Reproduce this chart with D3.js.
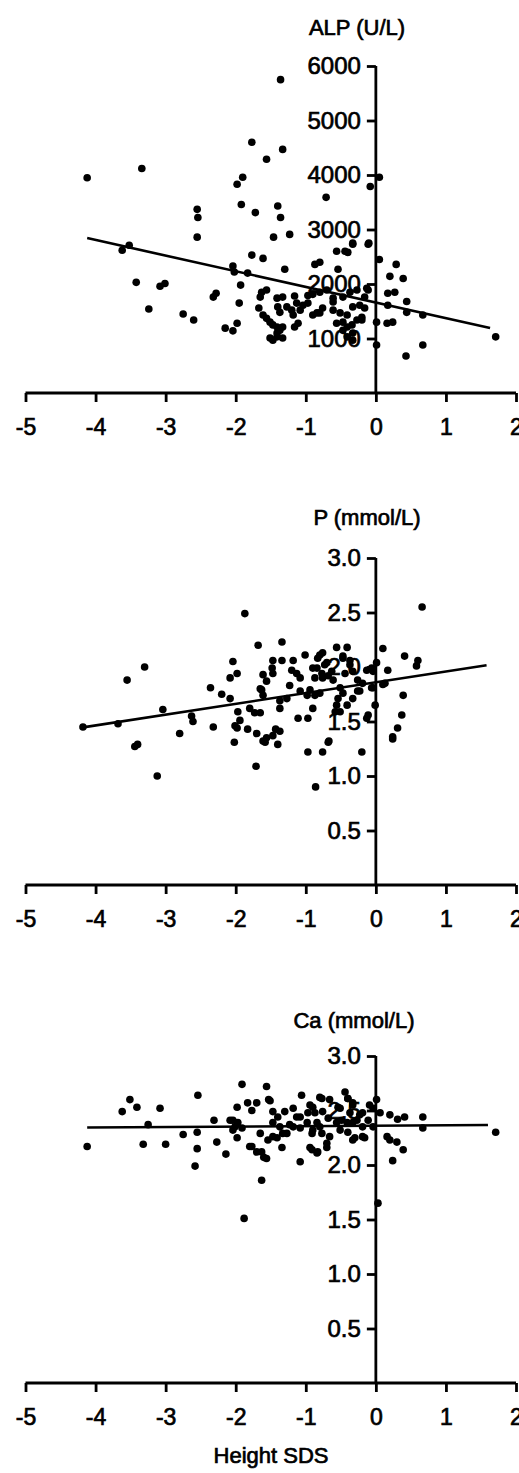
<!DOCTYPE html>
<html lang="en">
<head>
<meta charset="utf-8">
<title>Height SDS vs ALP, P, Ca</title>
<script src="https://cdn.jsdelivr.net/npm/d3@7"></script>
<style>
  body { margin: 0; background: #fff; }
  svg text { font-family: "Liberation Sans", Arial, Helvetica, sans-serif; fill: #000; stroke: #000; stroke-width: 0.7px; }
  .axis path, .axis line { stroke: #000; stroke-width: 2.8px; }
  .fit { stroke: #000; stroke-width: 2.6px; }
  .dot { fill: #000; }
</style>
</head>
<body>
<div id="chart"></div>
<script>
// x values: height SDS, shared by all three panels
var xTicks = [-5, -4, -3, -2, -1, 0, 1, 2];

var alpTicks = [1000, 2000, 3000, 4000, 5000, 6000];
var mmolTicks = [0.5, 1.0, 1.5, 2.0, 2.5, 3.0];

// [height SDS, ALP U/L]
var alpPoints = [
  [-4.12,3950],[-3.34,4120],[-1.36,5750],[-1.77,4600],[-1.33,4470],[-1.56,4290],[-1.90,3960],[-1.98,3830],
  [0.05,3960],[-0.08,3790],[-0.71,3590],[-1.92,3460],[-1.72,3310],[-1.40,3430],[-1.36,3220],[-2.55,3370],
  [-2.54,3220],[-2.55,2860],[-1.46,2860],[-1.23,2910],[-3.52,2710],[-3.62,2620],[-1.77,2530],[-1.61,2470],
  [-2.04,2330],[-2.02,2220],[-1.83,2200],[-1.30,2270],[-0.11,2730],[-0.33,2730],[-0.40,2580],[-0.56,2600],
  [-0.87,2360],[-0.80,2400],[-0.54,2270],[0.05,2450],[0.29,2360],[0.20,2140],[0.39,2100],[-3.42,2030],
  [-3.08,1960],[-3.01,2010],[-1.93,1980],[-0.13,1920],[-2.28,1830],[-2.32,1760],[-1.95,1650],[-3.24,1540],
  [-2.75,1450],[-2.60,1340],[-2.15,1190],[-2.04,1140],[-1.98,1280],[0.44,1680],[0.67,1430],[0.67,880],
  [0.43,680],[1.71,1030],[0.01,880],[0.01,1300],[0.16,1280],[0.24,1300],[0.17,1830],[0.27,1850],
  [-1.47,970],[-1.33,1010],[-0.44,2600],[-0.33,2750],[-0.10,2750],[-1.63,1850],[-1.56,1890],[-1.65,1760],
  [-1.41,1740],[-1.33,1760],[-1.16,1780],[-1.13,1650],[-0.97,1790],[-0.90,1810],[-0.80,1850],[-0.70,1890],
  [-0.61,1740],[-0.47,1760],[-0.37,1850],[-0.27,1890],[-0.16,1760],[-1.67,1560],[-1.61,1430],[-1.56,1370],
  [-1.51,1300],[-1.47,1250],[-1.41,1210],[-1.40,1580],[-1.37,1480],[-1.27,1580],[-1.20,1520],[-1.18,1430],
  [-1.04,1610],[-0.97,1650],[-0.90,1430],[-0.80,1470],[-1.11,1280],[-1.16,1210],[-1.37,1150],[-1.33,1210],
  [-1.41,1100],[-1.51,1010],[-1.41,1030],[-0.61,1520],[-0.51,1470],[-0.41,1430],[-0.33,1580],[-0.23,1610],
  [-0.16,1560],[-0.56,1280],[-0.47,1300],[-0.41,1210],[-0.34,1250],[-0.27,1340],[-0.20,1390],[-0.33,1100],
  [-0.41,1030],[-0.47,1150],[-0.76,1560],[-0.11,1890],[-0.33,970],[-0.20,1340],[-1.08,1520],[-0.84,1470],
  [-0.61,1670],[0.17,1610],[0.44,1480]
];

// [height SDS, P mmol/L]
var pPoints = [
  [-1.87,2.49],[0.66,2.55],[-3.30,2.00],[-3.55,1.88],[-4.18,1.45],[-3.68,1.48],[-3.04,1.61],[-1.68,2.20],
  [-1.34,2.23],[-2.04,2.05],[-1.98,1.94],[-2.08,1.90],[-2.36,1.81],[-2.20,1.75],[-2.08,1.71],[-2.63,1.55],
  [-2.61,1.50],[-2.80,1.39],[-2.32,1.45],[-1.97,1.59],[-1.94,1.51],[-1.98,1.44],[-1.83,1.43],[-1.70,1.39],
  [-1.56,1.35],[-1.43,1.43],[-1.37,1.41],[-1.47,1.37],[-1.11,1.53],[-0.97,1.53],[-0.90,1.62],[-0.67,1.32],
  [-1.47,2.06],[-1.34,2.06],[-1.61,1.93],[-1.56,1.87],[-1.63,1.79],[-1.61,1.74],[-1.48,1.99],[-1.47,1.94],
  [-1.18,2.06],[-1.20,1.97],[-1.23,1.83],[-1.27,1.71],[-1.01,2.11],[-0.80,2.11],[-0.73,2.02],[-0.90,1.99],
  [-0.87,1.90],[-0.76,1.90],[-0.63,1.96],[-0.61,1.88],[-0.56,2.18],[-0.41,2.18],[-0.47,2.10],[-0.37,2.06],
  [-0.33,1.96],[0.10,2.17],[0.41,2.10],[0.60,2.06],[0.58,2.01],[0.17,1.97],[0.01,2.04],[-0.04,1.96],
  [0.13,1.85],[-0.04,1.81],[-0.01,1.65],[0.39,1.74],[0.37,1.56],[0.31,1.44],[0.24,1.36],[-0.13,1.53],
  [-0.23,1.78],[-0.33,1.71],[-0.41,1.65],[-0.51,1.59],[-1.08,1.78],[-0.98,1.74],[-0.87,1.74],
  [-3.44,1.27],[-3.40,1.29],[-3.12,1.00],[-2.02,1.31],[-1.58,1.31],[-1.40,1.29],[-1.71,1.09],[-0.97,1.22],
  [-0.76,1.22],[-0.68,1.31],[-0.20,1.22],[-0.86,0.90],[0.24,1.34],
  [-1.65,1.80],[-1.13,1.94],[-1.08,1.90],[-1.37,1.69],[-1.37,1.62],[-0.83,2.08],[-0.76,2.13],[-0.70,2.04],
  [-0.84,1.99],[-0.77,1.94],[-0.68,1.92],[-0.47,2.08],[-0.37,2.02],[-0.44,1.94],[-0.26,1.88],[-0.13,1.97],
  [-0.06,1.99],[-0.94,1.79],[-0.80,1.76],[-0.51,1.81],[-0.47,1.76],[-0.54,1.71],[-0.56,1.65],[-0.58,1.59],
  [-0.19,1.85],[-0.26,1.78],[-0.06,1.81],[0.10,1.84],[-2.01,1.46],[-1.80,1.62],[-1.73,1.58],[-1.65,1.58],
  [-1.61,1.32],[-0.11,1.56]
];

// [height SDS, Ca mmol/L]
var caPoints = [
  [-4.12,2.17],[-3.62,2.49],[-3.51,2.60],[-3.41,2.53],[-3.08,2.52],[-3.32,2.19],[-3.25,2.37],[-3.00,2.19],
  [-2.75,2.28],[-2.54,2.64],[-2.55,2.30],[-2.55,2.15],[-2.58,1.99],[-2.31,2.41],[-2.27,2.21],[-2.14,2.10],
  [-1.91,2.74],[-1.98,2.53],[-2.04,2.41],[-2.01,2.35],[-1.83,2.57],[-1.70,2.57],[-1.77,2.50],[-1.98,2.25],
  [-1.91,2.34],[-1.56,2.72],[-1.53,2.60],[-1.65,2.29],[-1.77,2.17],[-1.63,2.12],[-1.56,2.06],[-1.63,1.86],
  [-1.47,2.49],[-1.40,2.44],[-1.30,2.49],[-1.47,2.39],[-1.37,2.35],[-1.41,2.25],[-1.33,2.29],[-1.34,2.16],
  [-1.18,2.52],[-1.13,2.44],[-1.23,2.37],[-1.08,2.34],[-1.06,2.64],[-1.08,2.03],[-0.91,2.14],[-0.84,2.11],
  [-0.80,2.62],[-0.94,2.55],[-0.87,2.48],[-0.76,2.49],[-0.84,2.39],[-0.91,2.29],[-0.77,2.29],[-0.66,2.26],
  [-0.70,2.20],[-0.44,2.67],[-0.40,2.61],[-0.33,2.57],[-0.51,2.52],[-0.37,2.48],[-0.23,2.46],[-0.49,2.41],
  [-0.33,2.39],[-0.19,2.35],[-0.51,2.32],[-0.40,2.30],[-0.19,2.26],[-0.33,2.23],[-0.04,2.52],[0.01,2.60],
  [0.06,2.48],[-0.11,2.41],[-0.04,2.35],[0.20,2.46],[0.31,2.42],[0.41,2.44],[0.67,2.44],[0.67,2.34],
  [1.71,2.30],[0.16,2.26],[0.20,2.23],[0.30,2.21],[0.39,2.14],[0.24,2.04],[0.03,1.65],[-1.88,1.51],
  [-1.51,2.59],[-2.08,2.41],[-2.04,2.32],[-0.94,2.16],[-0.83,2.12],[-0.70,2.16],[-0.30,2.25],[-0.16,2.25],
  [-0.97,2.48],[-0.90,2.53],[-0.77,2.61],[-0.66,2.60],[-0.54,2.53],[-0.40,2.61],[-0.33,2.55],[-0.09,2.55],
  [-0.19,2.48],[-0.27,2.41],[-0.41,2.39],[-0.56,2.39],[-0.68,2.43],[-0.80,2.35],[-0.90,2.32],[-0.98,2.39],
  [-1.08,2.44],[-1.18,2.35],[-1.27,2.29],[-1.47,2.26],[-1.54,2.23],[-1.97,2.39],[-1.80,2.17],[-1.70,2.12],
  [-1.60,2.07]
];

// regression lines: [intercept, slope, xFrom, xTo]
var alpFit = [1660, -287, -4.12, 1.63];
var pFit = [1.86, 0.099, -4.18, 1.58];
var caFit = [2.36, 0.004, -4.12, 1.60];

// plain hyphen minus, like the original figure
var intFmt = function(d) { return String(d); };
var oneDec = function(d) { return d.toFixed(1); };

var panels = [
  { title: "ALP (U/L)", points: alpPoints, fit: alpFit, ticks: alpTicks, max: 6000, axisY: 393, titleX: 357, titleY: 35, fmt: intFmt },
  { title: "P (mmol/L)", points: pPoints, fit: pFit, ticks: mmolTicks, max: 3, axisY: 885, titleX: 367, titleY: 525, fmt: oneDec },
  { title: "Ca (mmol/L)", points: caPoints, fit: caFit, ticks: mmolTicks, max: 3, axisY: 1383, titleX: 354, titleY: 1028, fmt: oneDec }
];

var width = 519, height = 1473, plotH = 327;

var svg = d3.select("#chart").append("svg")
    .attr("width", width)
    .attr("height", height);

var x = d3.scaleLinear().domain([-5, 2]).range([25.5, 516]);

panels.forEach(function(p) {
  var y = d3.scaleLinear().domain([0, p.max]).range([p.axisY, p.axisY - plotH]);
  var g = svg.append("g");

  // x axis, ticks pointing down
  var xa = g.append("g")
      .attr("class", "axis")
      .attr("transform", "translate(0," + p.axisY + ")")
      .call(d3.axisBottom(x).tickValues(xTicks).tickSize(9).tickSizeOuter(0).tickPadding(17).tickFormat(intFmt));
  xa.select(".domain").attr("d", "M" + x(-5) + ",0H" + x(2));
  xa.selectAll("text").attr("font-size", 23).attr("fill", "#000").attr("font-family", null);

  // y axis at x = 0
  var ya = g.append("g")
      .attr("class", "axis")
      .attr("transform", "translate(" + x(0) + ",0)")
      .call(d3.axisLeft(y).tickValues(p.ticks).tickSize(9).tickSizeOuter(0).tickPadding(6).tickFormat(p.fmt));
  ya.select(".domain").attr("d", "M0," + y(0) + "V" + y(p.max));
  ya.selectAll("text").attr("font-size", 24).attr("fill", "#000").attr("font-family", null);

  g.append("text")
      .attr("x", p.titleX)
      .attr("y", p.titleY)
      .attr("text-anchor", "middle")
      .attr("font-size", 22)
      .text(p.title);

  g.selectAll("circle")
      .data(p.points)
    .enter().append("circle")
      .attr("class", "dot")
      .attr("cx", function(d) { return x(d[0]); })
      .attr("cy", function(d) { return y(d[1]); })
      .attr("r", 3.8);

  var f = p.fit;
  g.append("line")
      .attr("class", "fit")
      .attr("x1", x(f[2])).attr("y1", y(f[0] + f[1] * f[2]))
      .attr("x2", x(f[3])).attr("y2", y(f[0] + f[1] * f[3]));
});

svg.append("text")
    .attr("x", 271)
    .attr("y", 1463)
    .attr("text-anchor", "middle")
    .attr("font-size", 22)
    .text("Height SDS");
</script>
</body>
</html>
